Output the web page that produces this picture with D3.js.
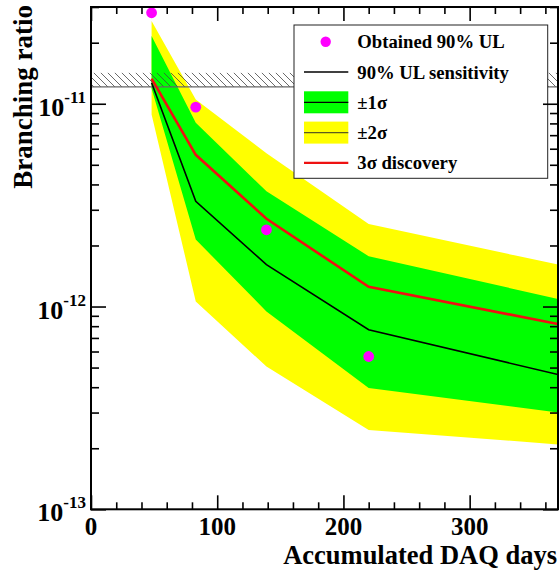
<!DOCTYPE html>
<html><head><meta charset="utf-8">
<script src="https://cdn.jsdelivr.net/npm/d3@7"></script>
<style>
html,body{margin:0;padding:0;background:#fff;}
svg text{font-family:"Liberation Serif","Times New Roman",serif;font-weight:bold;fill:#000;}
</style></head>
<body><svg id="c" width="560" height="571"></svg>
<script>
// ---- data ----
const days       = [48, 83, 139, 220, 370];
const sensitivity= [1.27e-11, 3.3e-12, 1.61e-12, 7.68e-13, 4.62e-13];
const oneSigLo   = [1.19e-11, 2.14e-12, 9.46e-13, 3.96e-13, 3.0e-13];
const oneSigHi   = [2.16e-11, 8.05e-12, 3.7e-12, 1.77e-12, 1.09e-12];
const twoSigLo   = [8.85e-12, 1.06e-12, 5.06e-13, 2.46e-13, 2.09e-13];
const twoSigHi   = [2.56e-11, 1.05e-11, 5.7e-12, 2.55e-12, 1.61e-12];
const discovery3 = [1.33e-11, 5.6e-12, 2.71e-12, 1.25e-12, 8.2e-13];
const obsDays    = [48, 83, 139, 220];
const obsUL      = [2.81e-11, 9.62e-12, 2.39e-12, 5.67e-13];
const excluded   = [1.21e-11, 1.42e-11];
const xTicks     = [0, 100, 200, 300];
const yTickExps  = [-13, -12, -11];
const legendLabels = ["Obtained 90% UL", "90% UL sensitivity", "\u00b11\u03c3", "\u00b12\u03c3", "3\u03c3 discovery"];

// ---- layout ----
const L = 91, R = 558, T = 7, B = 509.3;
const svg = d3.select("#c");
const x = d3.scaleLinear().domain([0, 370]).range([L, R]);
const y = d3.scaleLog().domain([1e-13, 3e-11]).range([B, T]);

const defs = svg.append("defs");
defs.append("clipPath").attr("id","clip").append("rect")
  .attr("x",L).attr("y",T).attr("width",R-L).attr("height",B-T);
const pat = defs.append("pattern").attr("id","hatch").attr("patternUnits","userSpaceOnUse")
  .attr("width",7).attr("height",7);
pat.append("path").attr("d","M0,0 L7,7 M-2,5 L2,9 M5,-2 L9,2")
  .attr("stroke","#444").attr("stroke-width",0.8);

const g = svg.append("g").attr("clip-path","url(#clip)");

const idx = d3.range(days.length);
const area = (lo, hi) => d3.area().x(i => x(days[i])).y0(i => y(lo[i])).y1(i => y(hi[i]))(idx);
const line = (vals) => d3.line().x(i => x(days[i])).y(i => y(vals[i]))(idx);

g.append("path").attr("d", area(twoSigLo, twoSigHi)).attr("fill","#ffff00");
g.append("path").attr("d", area(oneSigLo, oneSigHi)).attr("fill","#00ff00");

// excluded band (hatched)
g.append("rect").attr("x",L).attr("width",R-L)
  .attr("y",y(excluded[1])).attr("height",y(excluded[0])-y(excluded[1]))
  .attr("fill","url(#hatch)");
g.append("line").attr("x1",L).attr("x2",R).attr("y1",y(excluded[0])).attr("y2",y(excluded[0]))
  .attr("stroke","#666").attr("stroke-width",1.2);

g.append("path").attr("d", line(sensitivity)).attr("fill","none").attr("stroke","#000").attr("stroke-width",1.6);
g.append("path").attr("d", line(discovery3)).attr("fill","none").attr("stroke","#ee1111").attr("stroke-width",2.6);

g.selectAll("circle.obs").data(obsDays).enter().append("circle")
  .attr("cx",(d)=>x(d)).attr("cy",(d,i)=>y(obsUL[i])).attr("r",5.4).attr("fill","#ff00ff");

// ---- legend ----
const lg = svg.append("g");
lg.append("rect").attr("x",294).attr("y",25).attr("width",253.7).attr("height",153.3)
  .attr("fill","#fff").attr("stroke","#222").attr("stroke-width",1);
const rowY = i => 41.7 + i*30.3;
lg.append("circle").attr("cx",325.7).attr("cy",rowY(0)).attr("r",5.2).attr("fill","#ff00ff");
lg.append("line").attr("x1",304).attr("x2",348.3).attr("y1",rowY(1)).attr("y2",rowY(1)).attr("stroke","#000").attr("stroke-width",1.6);
lg.append("rect").attr("x",304).attr("y",rowY(2)-11).attr("width",44.3).attr("height",22).attr("fill","#00ff00");
lg.append("line").attr("x1",304).attr("x2",348.3).attr("y1",rowY(2)).attr("y2",rowY(2)).attr("stroke","#000").attr("stroke-width",1.2);
lg.append("rect").attr("x",304).attr("y",rowY(3)-11).attr("width",44.3).attr("height",22).attr("fill","#ffff00");
lg.append("line").attr("x1",304).attr("x2",348.3).attr("y1",rowY(3)).attr("y2",rowY(3)).attr("stroke","#5a5a20").attr("stroke-width",1.4);
lg.append("line").attr("x1",304).attr("x2",348.3).attr("y1",rowY(4)).attr("y2",rowY(4)).attr("stroke","#ee1111").attr("stroke-width",2.2);
lg.selectAll("text.lab").data(legendLabels).enter().append("text")
  .attr("x",357.3).attr("y",(d,i)=>rowY(i)+6.5).attr("font-size",18.7).text(d=>d);

// ---- axes ----
const axG = svg.append("g");
const minorX = d3.range(0, 371, 20).filter(v => v % 100 !== 0);
function styleAxis(sel){
  sel.select(".domain").remove();
  sel.selectAll(".tick line").attr("stroke","#000").attr("stroke-width",1.6);
}
axG.append("g").attr("transform",`translate(0,${B})`)
  .call(d3.axisBottom(x).tickValues(xTicks).tickSize(-14).tickFormat("")).call(styleAxis);
axG.append("g").attr("transform",`translate(0,${B})`)
  .call(d3.axisBottom(x).tickValues(minorX).tickSize(-7).tickFormat("")).call(styleAxis);
axG.append("g").attr("transform",`translate(0,${T})`)
  .call(d3.axisTop(x).tickValues(xTicks).tickSize(-14).tickFormat("")).call(styleAxis);
axG.append("g").attr("transform",`translate(0,${T})`)
  .call(d3.axisTop(x).tickValues(minorX).tickSize(-7).tickFormat("")).call(styleAxis);

const majorY = yTickExps.map(e => Math.pow(10, e));
const minorY = [];
[-13,-12,-11].forEach(e => { for (let k=2;k<=9;k++){ const v=k*Math.pow(10,e); if (v<=3e-11) minorY.push(v);} });
axG.append("g").attr("transform",`translate(${L},0)`)
  .call(d3.axisLeft(y).tickValues(majorY).tickSize(-15).tickFormat("")).call(styleAxis);
axG.append("g").attr("transform",`translate(${L},0)`)
  .call(d3.axisLeft(y).tickValues(minorY).tickSize(-8).tickFormat("")).call(styleAxis);
axG.append("g").attr("transform",`translate(${R},0)`)
  .call(d3.axisRight(y).tickValues(majorY).tickSize(-15).tickFormat("")).call(styleAxis);
axG.append("g").attr("transform",`translate(${R},0)`)
  .call(d3.axisRight(y).tickValues(minorY).tickSize(-8).tickFormat("")).call(styleAxis);

// frame
svg.append("rect").attr("x",L).attr("y",T).attr("width",R-L).attr("height",B-T)
  .attr("fill","none").attr("stroke","#000").attr("stroke-width",2);

// tick labels
svg.selectAll("text.xl").data(xTicks).enter().append("text")
  .attr("x",d=>x(d)).attr("y",535).attr("text-anchor","middle").attr("font-size",25).text(d=>d);
const yl = svg.selectAll("text.yl").data(yTickExps).enter().append("text")
  .attr("x",86).attr("y",d=>y(Math.pow(10,d))+12).attr("text-anchor","end").attr("font-size",26);
yl.append("tspan").text("10");
yl.append("tspan").attr("dy",-13).attr("font-size",17).text(d=>String(d));

// titles
svg.append("text").attr("x",557).attr("y",564).attr("text-anchor","end").attr("font-size",26.5)
  .text("Accumulated DAQ days");
svg.append("text").attr("transform","translate(32,5) rotate(-90)").attr("text-anchor","end")
  .attr("font-size",27).text("Branching ratio");
</script></body></html>
